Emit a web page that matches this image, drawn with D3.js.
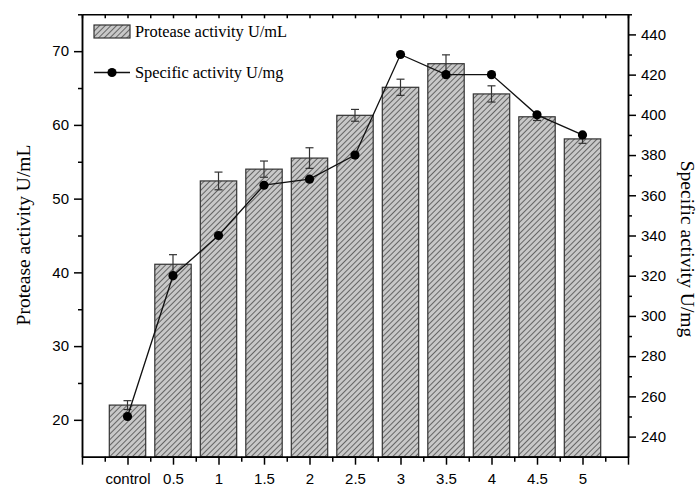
<!DOCTYPE html>
<meta charset="utf-8">
<head>
<style>
body { margin: 0; background: #fff; }
.axis path, .axis line { fill: none; stroke: #000; stroke-width: 1.5; }
.axis text { font: 15px "Liberation Sans", Arial, sans-serif; fill: #000; }
.title { font: 19.5px "Liberation Serif", "Times New Roman", serif; fill: #000; }
.legend { font: 16.4px "Liberation Serif", "Times New Roman", serif; fill: #000; }
</style>
</head>
<body>
<script src="https://cdnjs.cloudflare.com/ajax/libs/d3/7.8.5/d3.min.js"></script>
<script>

// values
var categories = ["control", "0.5", "1", "1.5", "2", "2.5", "3", "3.5", "4", "4.5", "5"];
var protease = [22.0, 41.1, 52.4, 54.0, 55.5, 61.3, 65.1, 68.3, 64.2, 61.1, 58.1];
var proteaseErr = [0.6, 1.3, 1.2, 1.1, 1.4, 0.8, 1.1, 1.2, 1.1, 0.5, 0.6];
var specific = [250, 320, 340, 365, 368, 380, 430, 420, 420, 400, 390];
var leftTicks = [20, 30, 40, 50, 60, 70];
var leftMinor = [25, 35, 45, 55, 65, 75];
var rightTicks = [240, 260, 280, 300, 320, 340, 360, 380, 400, 420, 440];
var rightMinor = [250, 270, 290, 310, 330, 350, 370, 390, 410, 430, 450];

var W = 699, H = 486;
// plot frame (note: "top" is a reserved window global, so use other names)
var frameL = 82, frameR = 628, frameT = 14.3, frameB = 456.7;

var svg = d3.select("body").append("svg")
    .attr("width", W)
    .attr("height", H);

// hatch pattern for the bars
var pat = svg.append("defs").append("pattern")
    .attr("id", "hatch")
    .attr("patternUnits", "userSpaceOnUse")
    .attr("width", 4)
    .attr("height", 4)
    .attr("patternTransform", "rotate(45)");
pat.append("rect").attr("width", 4).attr("height", 4).attr("fill", "#c8c8c8");
pat.append("line")
    .attr("x1", 0).attr("y1", 0).attr("x2", 0).attr("y2", 4)
    .attr("stroke", "#222").attr("stroke-width", 1.2);

// scales: categories sit on integer positions 0..10
var x = d3.scaleLinear().domain([-1, 11]).range([frameL, frameR]);
var yL = d3.scaleLinear().domain([15, 75]).range([frameB, frameT]);
var yR = d3.scaleLinear().domain([230, 450]).range([frameB, frameT]);
var step = x(1) - x(0);
var bw = step * 0.8;

var idx = d3.range(categories.length);

// bars
svg.append("g").selectAll("rect")
    .data(idx)
    .enter().append("rect")
    .attr("x", function (i) { return x(i) - bw / 2; })
    .attr("y", function (i) { return yL(protease[i]); })
    .attr("width", bw)
    .attr("height", function (i) { return yL(15) - yL(protease[i]); })
    .attr("fill", "url(#hatch)")
    .attr("stroke", "#333")
    .attr("stroke-width", 1.2);

// error bars
var eb = svg.append("g").attr("stroke", "#333").attr("stroke-width", 1.2);
idx.forEach(function (i) {
    var hi = yL(protease[i] + proteaseErr[i]), lo = yL(protease[i] - proteaseErr[i]);
    eb.append("line").attr("x1", x(i)).attr("x2", x(i)).attr("y1", hi).attr("y2", lo);
    eb.append("line").attr("x1", x(i) - 4).attr("x2", x(i) + 4).attr("y1", hi).attr("y2", hi);
    eb.append("line").attr("x1", x(i) - 4).attr("x2", x(i) + 4).attr("y1", lo).attr("y2", lo);
});

// specific activity line + dots
var line = d3.line()
    .x(function (i) { return x(i); })
    .y(function (i) { return yR(specific[i]); });

svg.append("path")
    .datum(idx)
    .attr("d", line)
    .attr("fill", "none")
    .attr("stroke", "#111")
    .attr("stroke-width", 1.3);

svg.append("g").selectAll("circle")
    .data(idx)
    .enter().append("circle")
    .attr("cx", function (i) { return x(i); })
    .attr("cy", function (i) { return yR(specific[i]); })
    .attr("r", 4.6)
    .attr("fill", "#000");

// bottom axis
var xMajor = d3.range(-1, 12);
var xMinor = d3.range(-0.5, 11, 1);
svg.append("g")
    .attr("class", "axis")
    .attr("transform", "translate(0," + frameB + ")")
    .call(d3.axisBottom(x).tickValues(xMajor).tickSize(8).tickSizeOuter(0).tickPadding(9)
        .tickFormat(function (d) { return categories[d] || ""; }));
svg.append("g")
    .attr("class", "axis")
    .attr("transform", "translate(0," + frameB + ")")
    .call(d3.axisBottom(x).tickValues(xMinor).tickSize(5).tickSizeOuter(0).tickFormat(""));

// top frame with inward ticks
svg.append("g")
    .attr("class", "axis")
    .attr("transform", "translate(0," + frameT + ")")
    .call(d3.axisBottom(x).tickValues(xMajor.concat(xMinor)).tickSize(4).tickSizeOuter(0).tickFormat(""));

// left axis
svg.append("g")
    .attr("class", "axis")
    .attr("transform", "translate(" + frameL + ",0)")
    .call(d3.axisLeft(yL).tickValues(leftTicks).tickSize(8).tickSizeOuter(0).tickPadding(5));
svg.append("g")
    .attr("class", "axis")
    .attr("transform", "translate(" + frameL + ",0)")
    .call(d3.axisLeft(yL).tickValues(leftMinor).tickSize(4).tickSizeOuter(0).tickFormat(""));

// right axis
svg.append("g")
    .attr("class", "axis")
    .attr("transform", "translate(" + frameR + ",0)")
    .call(d3.axisRight(yR).tickValues(rightTicks).tickSize(8).tickSizeOuter(0).tickPadding(5));
svg.append("g")
    .attr("class", "axis")
    .attr("transform", "translate(" + frameR + ",0)")
    .call(d3.axisRight(yR).tickValues(rightMinor).tickSize(4).tickSizeOuter(0).tickFormat(""));

// axis titles
svg.append("text")
    .attr("class", "title")
    .attr("transform", "translate(30,235) rotate(-90)")
    .attr("text-anchor", "middle")
    .text("Protease activity U/mL");

svg.append("text")
    .attr("class", "title")
    .attr("transform", "translate(681,249) rotate(90)")
    .attr("text-anchor", "middle")
    .text("Specific activity U/mg");

// legend
svg.append("rect")
    .attr("x", 94).attr("y", 25)
    .attr("width", 36).attr("height", 13)
    .attr("fill", "url(#hatch)")
    .attr("stroke", "#333").attr("stroke-width", 1.2);
svg.append("text").attr("class", "legend")
    .attr("x", 135).attr("y", 37)
    .text("Protease activity U/mL");

svg.append("line")
    .attr("x1", 94).attr("x2", 130).attr("y1", 72.5).attr("y2", 72.5)
    .attr("stroke", "#111").attr("stroke-width", 1.3);
svg.append("circle")
    .attr("cx", 112).attr("cy", 72.5).attr("r", 4.6).attr("fill", "#000");
svg.append("text").attr("class", "legend")
    .attr("x", 135).attr("y", 77.5)
    .text("Specific activity U/mg");

</script>
</body>
